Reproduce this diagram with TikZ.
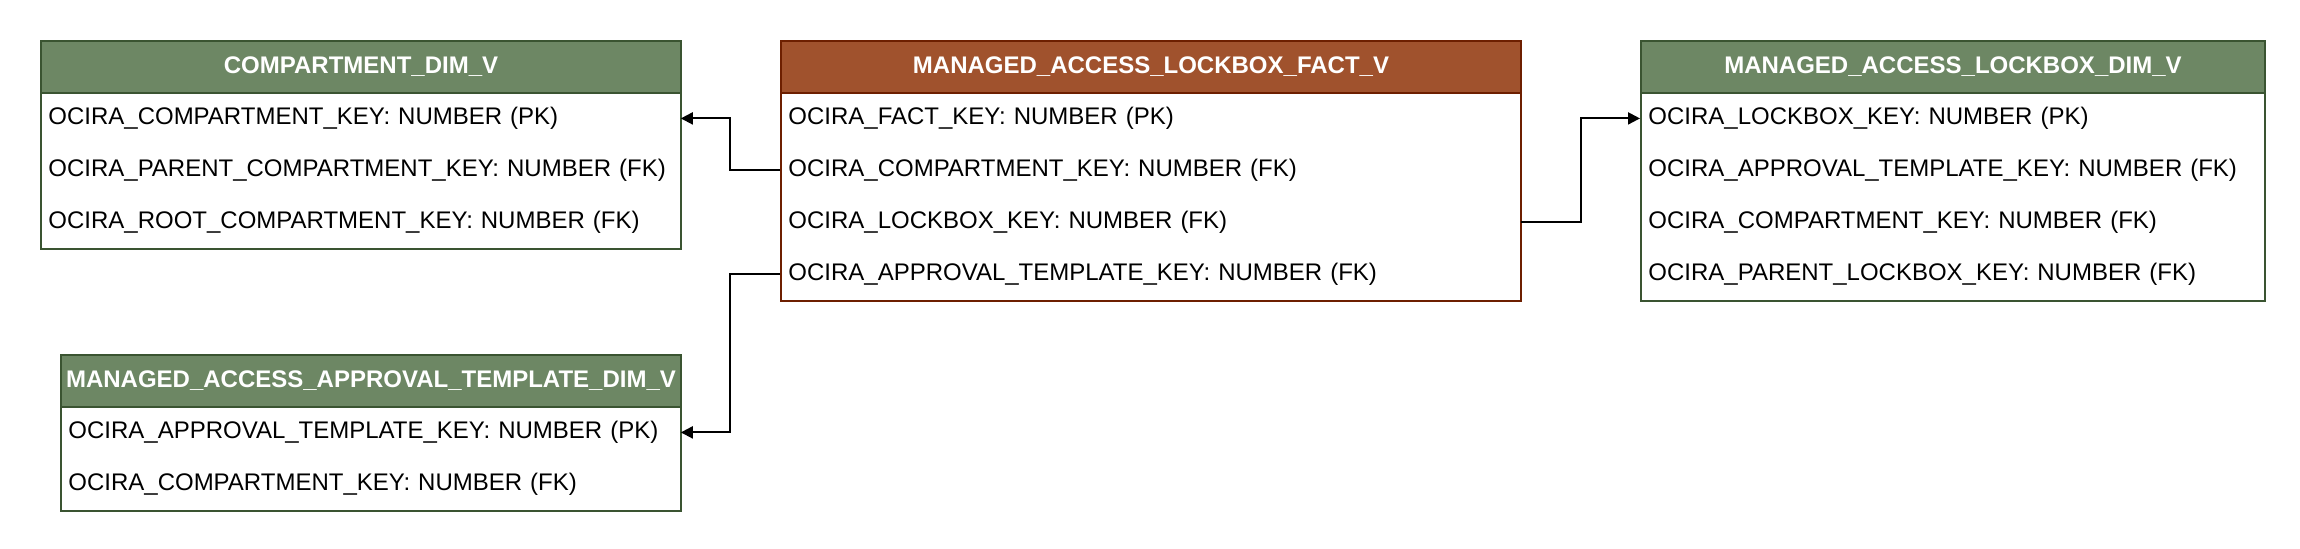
\documentclass[tikz,border=0pt]{standalone}
\usepackage{fontspec}
\setmainfont{Liberation Sans}
\usetikzlibrary{arrows.meta}
\definecolor{dimfill}{HTML}{6D8764}
\definecolor{dimline}{HTML}{3A5431}
\definecolor{factfill}{HTML}{A0522D}
\definecolor{factline}{HTML}{6D1F00}
\begin{document}
\begin{tikzpicture}[x=0.5pt,y=-0.5pt, font=\fontsize{12}{14}\selectfont,
 hdr/.style={draw=#1, line width=1pt, text=white, font=\fontsize{12}{14}\selectfont\bfseries, minimum height=26pt, inner sep=0pt, anchor=north west},
 fieldrow/.style={anchor=north west, minimum height=26pt, inner xsep=4pt, inner ysep=0pt, align=left},
 rowtext/.style={yshift=0.8pt},
 tablebox/.style={draw=#1, line width=1pt, fill=white, anchor=north west, inner sep=0pt},
 conn/.style={line width=1pt, -{Triangle[length=6pt,width=6pt]}}]

\useasboundingbox (0,0) rectangle (2300,548);

% COMPARTMENT_DIM_V
\node[tablebox=dimline, minimum width=320pt, minimum height=104pt] (cbox) at (40,40) {};
\node[hdr=dimline, fill=dimfill, minimum width=320pt] (chead) at (40,40) {COMPARTMENT\_DIM\_V};
\node[fieldrow, text width=312pt] (cr1) at (40,92) {\raisebox{0.8pt}{OCIRA\_COMPARTMENT\_KEY: NUMBER (PK)}};
\node[fieldrow, text width=312pt] (cr2) at (40,144) {\raisebox{0.8pt}{OCIRA\_PARENT\_COMPARTMENT\_KEY: NUMBER (FK)}};
\node[fieldrow, text width=312pt] (cr3) at (40,196) {\raisebox{0.8pt}{OCIRA\_ROOT\_COMPARTMENT\_KEY: NUMBER (FK)}};

% MANAGED_ACCESS_LOCKBOX_FACT_V
\node[tablebox=factline, minimum width=370pt, minimum height=130pt] (fbox) at (780,40) {};
\node[hdr=factline, fill=factfill, minimum width=370pt] (fhead) at (780,40) {MANAGED\_ACCESS\_LOCKBOX\_FACT\_V};
\node[fieldrow, text width=362pt] (fr1) at (780,92) {\raisebox{0.8pt}{OCIRA\_FACT\_KEY: NUMBER (PK)}};
\node[fieldrow, text width=362pt] (fr2) at (780,144) {\raisebox{0.8pt}{OCIRA\_COMPARTMENT\_KEY: NUMBER (FK)}};
\node[fieldrow, text width=362pt] (fr3) at (780,196) {\raisebox{0.8pt}{OCIRA\_LOCKBOX\_KEY: NUMBER (FK)}};
\node[fieldrow, text width=362pt] (fr4) at (780,248) {\raisebox{0.8pt}{OCIRA\_APPROVAL\_TEMPLATE\_KEY: NUMBER (FK)}};

% MANAGED_ACCESS_LOCKBOX_DIM_V
\node[tablebox=dimline, minimum width=312pt, minimum height=130pt] (lbox) at (1640,40) {};
\node[hdr=dimline, fill=dimfill, minimum width=312pt] (lhead) at (1640,40) {MANAGED\_ACCESS\_LOCKBOX\_DIM\_V};
\node[fieldrow, text width=304pt] (lr1) at (1640,92) {\raisebox{0.8pt}{OCIRA\_LOCKBOX\_KEY: NUMBER (PK)}};
\node[fieldrow, text width=304pt] (lr2) at (1640,144) {\raisebox{0.8pt}{OCIRA\_APPROVAL\_TEMPLATE\_KEY: NUMBER (FK)}};
\node[fieldrow, text width=304pt] (lr3) at (1640,196) {\raisebox{0.8pt}{OCIRA\_COMPARTMENT\_KEY: NUMBER (FK)}};
\node[fieldrow, text width=304pt] (lr4) at (1640,248) {\raisebox{0.8pt}{OCIRA\_PARENT\_LOCKBOX\_KEY: NUMBER (FK)}};

% MANAGED_ACCESS_APPROVAL_TEMPLATE_DIM_V
\node[tablebox=dimline, minimum width=310pt, minimum height=78pt] (abox) at (60,354) {};
\node[hdr=dimline, fill=dimfill, minimum width=310pt] (ahead) at (60,354) {MANAGED\_ACCESS\_APPROVAL\_TEMPLATE\_DIM\_V};
\node[fieldrow, text width=302pt] (ar1) at (60,406) {\raisebox{0.8pt}{OCIRA\_APPROVAL\_TEMPLATE\_KEY: NUMBER (PK)}};
\node[fieldrow, text width=302pt] (ar2) at (60,458) {\raisebox{0.8pt}{OCIRA\_COMPARTMENT\_KEY: NUMBER (FK)}};

% connectors
\draw[conn] (fr2.west) -- ++(-50,0) |- (cr1.east);
\draw[conn] (fr4.west) -- ++(-50,0) |- (ar1.east);
\draw[conn] (fr3.east) -- ++(60,0) |- (lr1.west);
\end{tikzpicture}
\end{document}
